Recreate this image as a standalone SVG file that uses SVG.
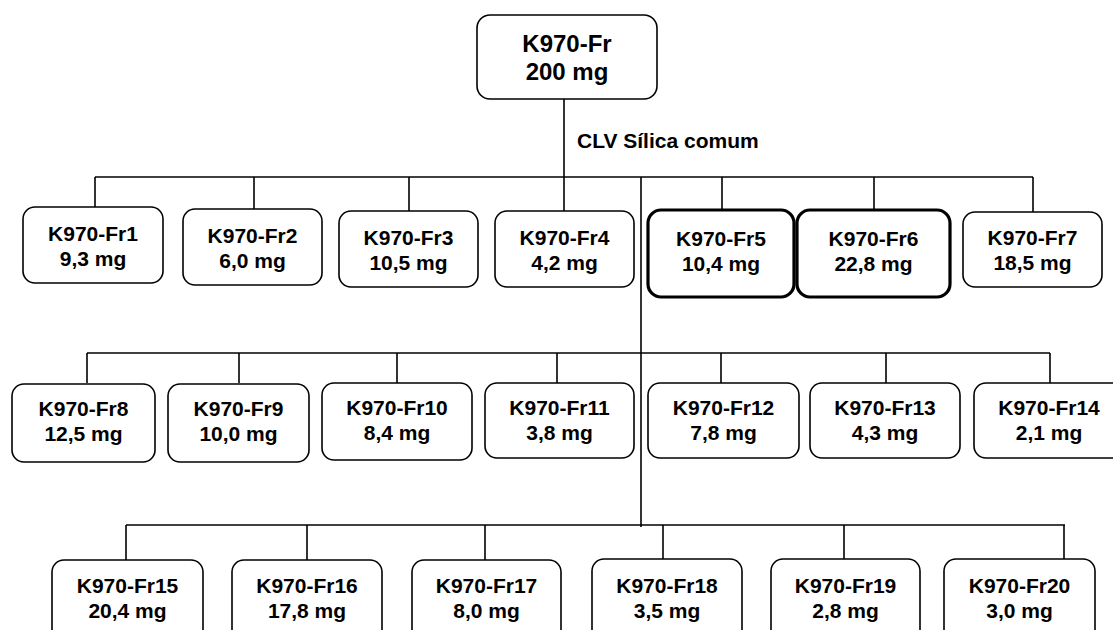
<svg xmlns="http://www.w3.org/2000/svg" width="1113" height="630" viewBox="0 0 1113 630">
<style>
.box{fill:#fff;stroke:#000;stroke-width:1.6}
.thick{stroke-width:3.2}
.t{font-family:"Liberation Sans",Arial,sans-serif;font-weight:bold;font-size:21px;text-anchor:middle;fill:#000}
.root{font-size:24px}
.lbl{text-anchor:start}
.c line{stroke:#000;stroke-width:1.6}
</style>
<rect width="1113" height="630" fill="#fff"/>
<g class="c" id="connectors">
<line x1="564" y1="99" x2="564" y2="211"/>
<line x1="95" y1="177" x2="1033" y2="177"/>
<line x1="641" y1="177" x2="641" y2="527"/>
<line x1="95" y1="177" x2="95" y2="207"/>
<line x1="254" y1="177" x2="254" y2="209"/>
<line x1="409" y1="177" x2="409" y2="211"/>
<line x1="722" y1="177" x2="722" y2="210"/>
<line x1="874" y1="177" x2="874" y2="210"/>
<line x1="1033" y1="177" x2="1033" y2="212"/>
<line x1="87" y1="353" x2="1050" y2="353"/>
<line x1="87" y1="353" x2="87" y2="383"/>
<line x1="239" y1="353" x2="239" y2="383"/>
<line x1="397" y1="353" x2="397" y2="383"/>
<line x1="557" y1="353" x2="557" y2="383"/>
<line x1="721" y1="353" x2="721" y2="383"/>
<line x1="886" y1="353" x2="886" y2="383"/>
<line x1="1050" y1="353" x2="1050" y2="383"/>
<line x1="126" y1="525" x2="1065" y2="525"/>
<line x1="126" y1="525" x2="126" y2="560"/>
<line x1="307" y1="525" x2="307" y2="560"/>
<line x1="485" y1="525" x2="485" y2="560"/>
<line x1="663" y1="525" x2="663" y2="559"/>
<line x1="844" y1="525" x2="844" y2="559"/>
<line x1="1064" y1="525" x2="1064" y2="559"/>
</g>
<text class="t lbl" x="577" y="148">CLV Sílica comum</text>
<g id="root"><rect class="box" x="477" y="15" width="180" height="84" rx="13"/><text class="t root" x="567" y="52">K970-Fr</text><text class="t root" x="567" y="80">200 mg</text></g>
<g id="fr1"><rect class="box" x="23" y="207" width="140" height="76" rx="12"/><text class="t" x="93" y="241">K970-Fr1</text><text class="t" x="93" y="266">9,3 mg</text></g>
<g id="fr2"><rect class="box" x="183" y="209" width="139" height="76" rx="12"/><text class="t" x="252.5" y="243">K970-Fr2</text><text class="t" x="252.5" y="268">6,0 mg</text></g>
<g id="fr3"><rect class="box" x="339" y="211" width="139" height="76" rx="12"/><text class="t" x="408.5" y="245">K970-Fr3</text><text class="t" x="408.5" y="270">10,5 mg</text></g>
<g id="fr4"><rect class="box" x="495" y="211" width="139" height="76" rx="12"/><text class="t" x="564.5" y="245">K970-Fr4</text><text class="t" x="564.5" y="270">4,2 mg</text></g>
<g id="fr5"><rect class="box thick" x="648" y="210" width="146" height="87" rx="13"/><text class="t" x="721" y="246">K970-Fr5</text><text class="t" x="721" y="271">10,4 mg</text></g>
<g id="fr6"><rect class="box thick" x="797" y="210" width="153" height="87" rx="13"/><text class="t" x="873.5" y="246">K970-Fr6</text><text class="t" x="873.5" y="271">22,8 mg</text></g>
<g id="fr7"><rect class="box" x="963" y="212" width="139" height="75" rx="12"/><text class="t" x="1032.5" y="245">K970-Fr7</text><text class="t" x="1032.5" y="270">18,5 mg</text></g>
<g id="fr8"><rect class="box" x="12" y="384" width="143" height="78" rx="12"/><text class="t" x="83.5" y="416">K970-Fr8</text><text class="t" x="83.5" y="441">12,5 mg</text></g>
<g id="fr9"><rect class="box" x="168" y="384" width="141" height="78" rx="12"/><text class="t" x="238.5" y="416">K970-Fr9</text><text class="t" x="238.5" y="441">10,0 mg</text></g>
<g id="fr10"><rect class="box" x="322" y="383" width="150" height="77" rx="12"/><text class="t" x="397" y="415">K970-Fr10</text><text class="t" x="397" y="440">8,4 mg</text></g>
<g id="fr11"><rect class="box" x="485" y="383" width="149" height="75" rx="12"/><text class="t" x="559.5" y="415">K970-Fr11</text><text class="t" x="559.5" y="440">3,8 mg</text></g>
<g id="fr12"><rect class="box" x="648" y="383" width="151" height="75" rx="12"/><text class="t" x="723.5" y="415">K970-Fr12</text><text class="t" x="723.5" y="440">7,8 mg</text></g>
<g id="fr13"><rect class="box" x="810" y="383" width="150" height="75" rx="12"/><text class="t" x="885" y="415">K970-Fr13</text><text class="t" x="885" y="440">4,3 mg</text></g>
<g id="fr14"><rect class="box" x="974" y="383" width="150" height="75" rx="12"/><text class="t" x="1049" y="415">K970-Fr14</text><text class="t" x="1049" y="440">2,1 mg</text></g>
<g id="fr15"><rect class="box" x="52" y="560" width="151" height="85" rx="12"/><text class="t" x="127.5" y="593">K970-Fr15</text><text class="t" x="127.5" y="618">20,4 mg</text></g>
<g id="fr16"><rect class="box" x="232" y="560" width="150" height="85" rx="12"/><text class="t" x="307" y="593">K970-Fr16</text><text class="t" x="307" y="618">17,8 mg</text></g>
<g id="fr17"><rect class="box" x="412" y="560" width="149" height="85" rx="12"/><text class="t" x="486.5" y="593">K970-Fr17</text><text class="t" x="486.5" y="618">8,0 mg</text></g>
<g id="fr18"><rect class="box" x="592" y="559" width="150" height="86" rx="12"/><text class="t" x="667" y="593">K970-Fr18</text><text class="t" x="667" y="618">3,5 mg</text></g>
<g id="fr19"><rect class="box" x="771" y="559" width="149" height="86" rx="12"/><text class="t" x="845.5" y="593">K970-Fr19</text><text class="t" x="845.5" y="618">2,8 mg</text></g>
<g id="fr20"><rect class="box" x="944" y="559" width="151" height="86" rx="12"/><text class="t" x="1019.5" y="593">K970-Fr20</text><text class="t" x="1019.5" y="618">3,0 mg</text></g>
</svg>
